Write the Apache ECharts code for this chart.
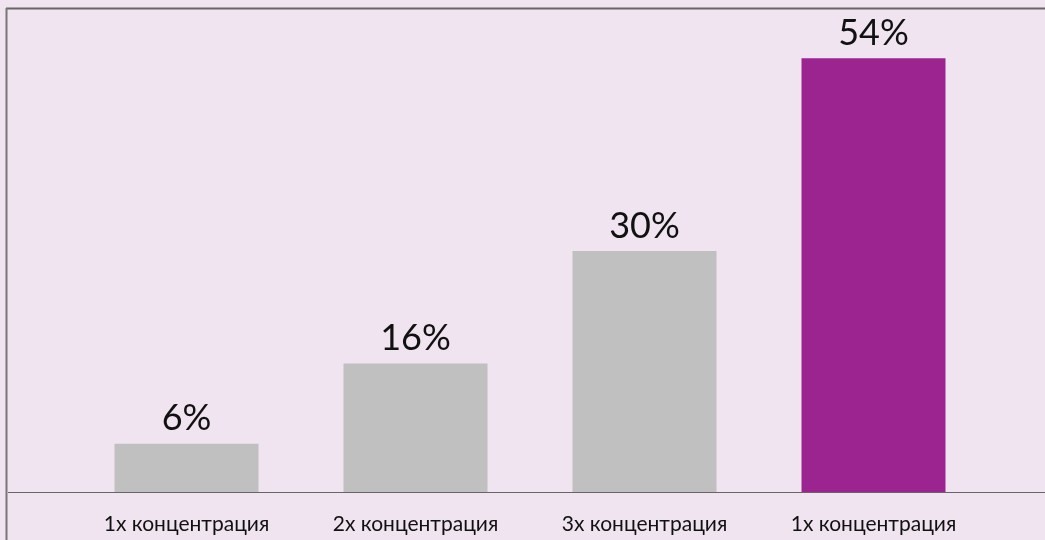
<!DOCTYPE html>
<html>
<head>
<meta charset="utf-8">
<script src="https://cdn.jsdelivr.net/npm/echarts@6/dist/echarts.min.js"></script>
<style>
  html, body { margin: 0; padding: 0; background: #f0e4f1; }
  #chart { width: 1045px; height: 540px; }
</style>
</head>
<body>
<div id="chart"></div>
<script>
// данные
var categories = ['1x концентрация', '2x концентрация', '3x концентрация', '1x концентрация'];
var values = [6, 16, 30, 54];
var barColors = ['#c0c0c0', '#c0c0c0', '#c0c0c0', '#9b2490'];

var chart = echarts.init(document.getElementById('chart'));

var option = {
  backgroundColor: '#f0e4f1',
  textStyle: { fontFamily: 'Lato, "Open Sans", sans-serif' },
  grid: { left: 72, right: 57, top: 10, bottom: 48 },
  // рамка и линия оси
  graphic: [
    { type: 'line', shape: { x1: 6, y1: 8.5, x2: 1045, y2: 8.5 }, style: { stroke: '#666', lineWidth: 2 } },
    { type: 'line', shape: { x1: 6.5, y1: 8, x2: 6.5, y2: 540 }, style: { stroke: '#777', lineWidth: 2 } },
    { type: 'line', shape: { x1: 8, y1: 492.5, x2: 1045, y2: 492.5 }, style: { stroke: '#666', lineWidth: 1.2 } }
  ],
  xAxis: {
    type: 'category',
    data: categories,
    axisLine: { show: false },
    axisTick: { show: false },
    axisLabel: { color: '#111', fontSize: 21, margin: 22 }
  },
  yAxis: {
    type: 'value',
    min: 0,
    max: 60,
    show: false,
    splitLine: { show: false }
  },
  series: [{
    type: 'bar',
    barWidth: 144,
    data: values.map(function (v, i) {
      return { value: v, itemStyle: { color: barColors[i] } };
    }),
    label: {
      show: true,
      position: 'top',
      distance: 7,
      color: '#111',
      fontSize: 36,
      formatter: '{c}%'
    }
  }]
};

chart.setOption(option);
</script>
</body>
</html>
